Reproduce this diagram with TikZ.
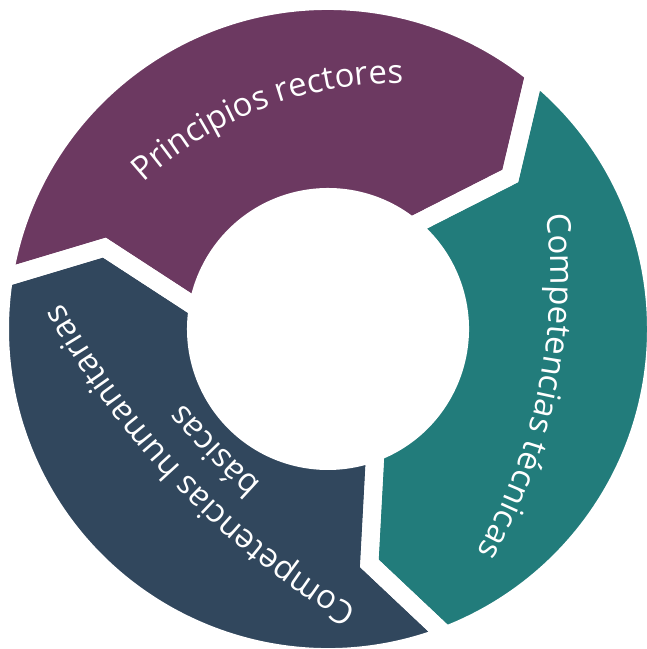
\documentclass[tikz,border=0pt]{standalone}
\usepackage{fontspec}
\setmainfont{Open Sans}
\usetikzlibrary{decorations.text}
\definecolor{rectorpurple}{RGB}{108,57,97}
\definecolor{tecnteal}{RGB}{34,124,123}
\definecolor{humannavy}{RGB}{49,71,93}
\newcommand{\ringfont}{\fontsize{33}{40}\selectfont}
\tikzset{
  ringseg/.style={insert path={({#1}:328) arc[start angle={#1}, delta angle=-120, radius=328]
      -- ({#1-131}:238) -- ({#1-120}:132) arc[start angle={#1-120}, delta angle=120, radius=132]
      -- ({#1-11}:238) -- cycle}},
  seggap/.style={draw=white, line width=18bp, line join=miter},
  arctext/.style={decorate, decoration={text along path, text align=center,
      text color=white, text={|\ringfont|#1}}}
}

\begin{document}
\begin{tikzpicture}[x=1bp,y=1bp]
    \useasboundingbox (0,0) rectangle (647,649);
    \begin{scope}[shift={(328,320)}]
        \foreach \a/\col in {171/rectorpurple, 51/tecnteal, 291/humannavy}
            \fill[\col, ringseg=\a];
        \foreach \a in {171,51,291}
            \path[seggap, ringseg=\a];
    \end{scope}
    % text centres
    \coordinate (rect) at (401,183.5);
    \coordinate (tecn) at (-1.7,372.2);
    \coordinate (human) at (777,741);
    \path[arctext={Principios rectores}] ([shift={(141:382.5)}]rect) arc[start angle=141, end angle=81, radius=382.5];
    \path[arctext={Competencias técnicas}] ([shift={(13.3:552)}]tecn) arc[start angle=13.3, end angle=-36.7, radius=552];
    \path[arctext={Competencias humanitarias}] ([shift={(246:817)}]human) arc[start angle=246, end angle=202, radius=817];
    \path[arctext={básicas}] ([shift={(234:773)}]human) arc[start angle=234, end angle=214, radius=773];
\end{tikzpicture}
\end{document}
